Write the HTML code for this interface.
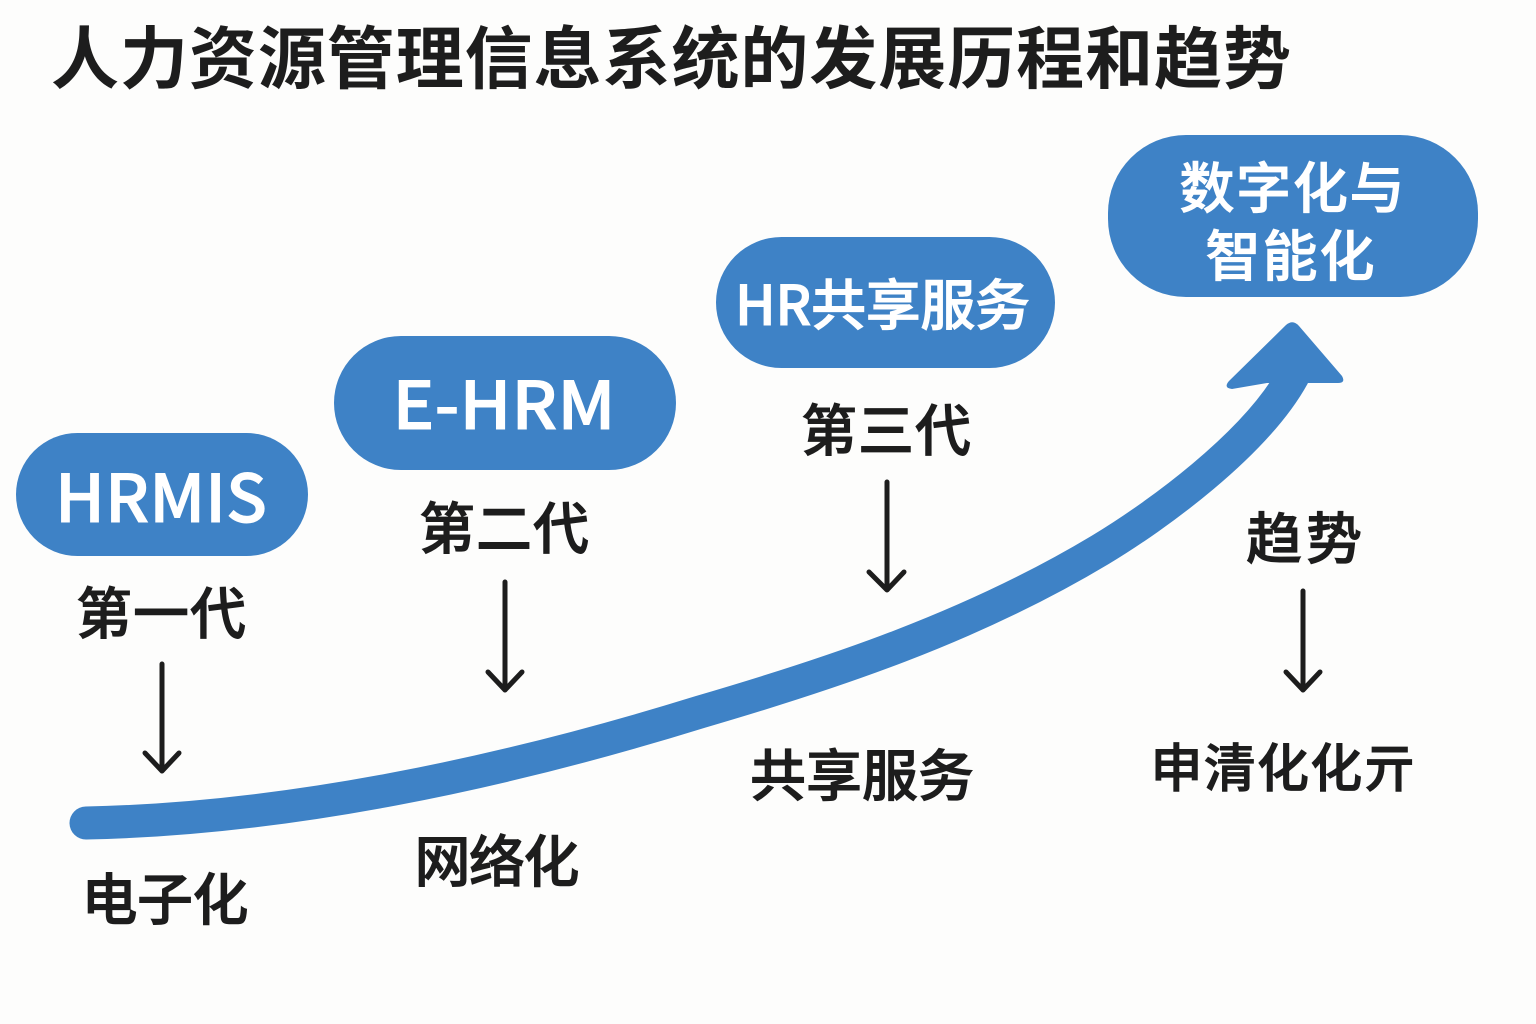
<!DOCTYPE html>
<html><head><meta charset="utf-8">
<style>
html,body{margin:0;padding:0;background:#fdfdfc}
svg{display:block}
text{font-family:"Liberation Sans","Noto Sans CJK SC",sans-serif}
.n{font-family:"Noto Sans CJK SC","Liberation Sans",sans-serif}
</style></head>
<body>
<svg width="1536" height="1024" viewBox="0 0 1536 1024" xmlns="http://www.w3.org/2000/svg">
<rect width="1536" height="1024" fill="#fdfdfc"/>
<text x="51" y="83" font-size="68" font-weight="700" fill="#1d1d1d" textLength="1240" lengthAdjust="spacing">人力资源管理信息系统的发展历程和趋势</text>

<path d="M86 823 C286 819 500 774 700 712 C830 674 970 628 1100 550 C1155 517 1255 445 1293 376" fill="none" stroke="#3e82c6" stroke-width="33" stroke-linecap="round"/>
<path d="M1267 383 L1232 389 Q1223 388 1229 381 L1286 325 Q1293 319 1299 326 L1342 376 Q1346 383 1338 383 L1310 383 Z" fill="#3e82c6"/>

<rect x="16" y="433" width="292" height="123" rx="61.5" fill="#3e82c6"/>
<rect x="334" y="336" width="342" height="134" rx="67" fill="#3e82c6"/>
<rect x="716" y="237" width="339" height="131" rx="65.5" fill="#3e82c6"/>
<rect x="1108" y="135" width="370" height="162" rx="78" fill="#3e82c6"/>

<g fill="#fff" stroke="#fff" stroke-width="0.9" font-weight="500" text-anchor="middle">
<text class="n" x="161" y="522" font-size="66" textLength="212" lengthAdjust="spacingAndGlyphs">HRMIS</text>
<text class="n" x="504" y="429" font-size="66" textLength="223" lengthAdjust="spacingAndGlyphs">E-HRM</text>
<text class="n" x="882.5" y="325" font-size="55" textLength="295" lengthAdjust="spacing">HR共享服务</text>
<text class="n" x="1292" y="208" font-size="55" textLength="225" lengthAdjust="spacing">数字化与</text>
<text class="n" x="1290" y="276" font-size="55" textLength="169" lengthAdjust="spacing">智能化</text>
</g>

<g fill="#1d1d1d" stroke="#1d1d1d" stroke-width="0.9" font-weight="500" font-size="56" text-anchor="middle">
<text class="n" x="161" y="634" textLength="170" lengthAdjust="spacing">第一代</text>
<text class="n" x="504" y="549" textLength="170" lengthAdjust="spacing">第二代</text>
<text class="n" x="886" y="451" textLength="170" lengthAdjust="spacing">第三代</text>
<text class="n" x="1304" y="559" textLength="116" lengthAdjust="spacing">趋势</text>
<text class="n" x="165" y="920" textLength="167" lengthAdjust="spacing">电子化</text>
<text class="n" x="497" y="882" textLength="165" lengthAdjust="spacing">网络化</text>
<text class="n" x="862" y="796" textLength="224" lengthAdjust="spacing">共享服务</text>
<text class="n" x="1283" y="787" font-size="52" textLength="265" lengthAdjust="spacing">申清化化亓</text>
</g>

<g fill="none" stroke="#1d1d1d" stroke-width="5" stroke-linecap="round" stroke-linejoin="round">
<path d="M162 664V770M145 753L162 771L179 753"/>
<path d="M505 582V689M488 672L505 690L522 672"/>
<path d="M887 482V589M869 572L887 590L904 572"/>
<path d="M1303 591V689M1286 672L1303 690L1320 672"/>
</g>
</svg>
</body></html>
